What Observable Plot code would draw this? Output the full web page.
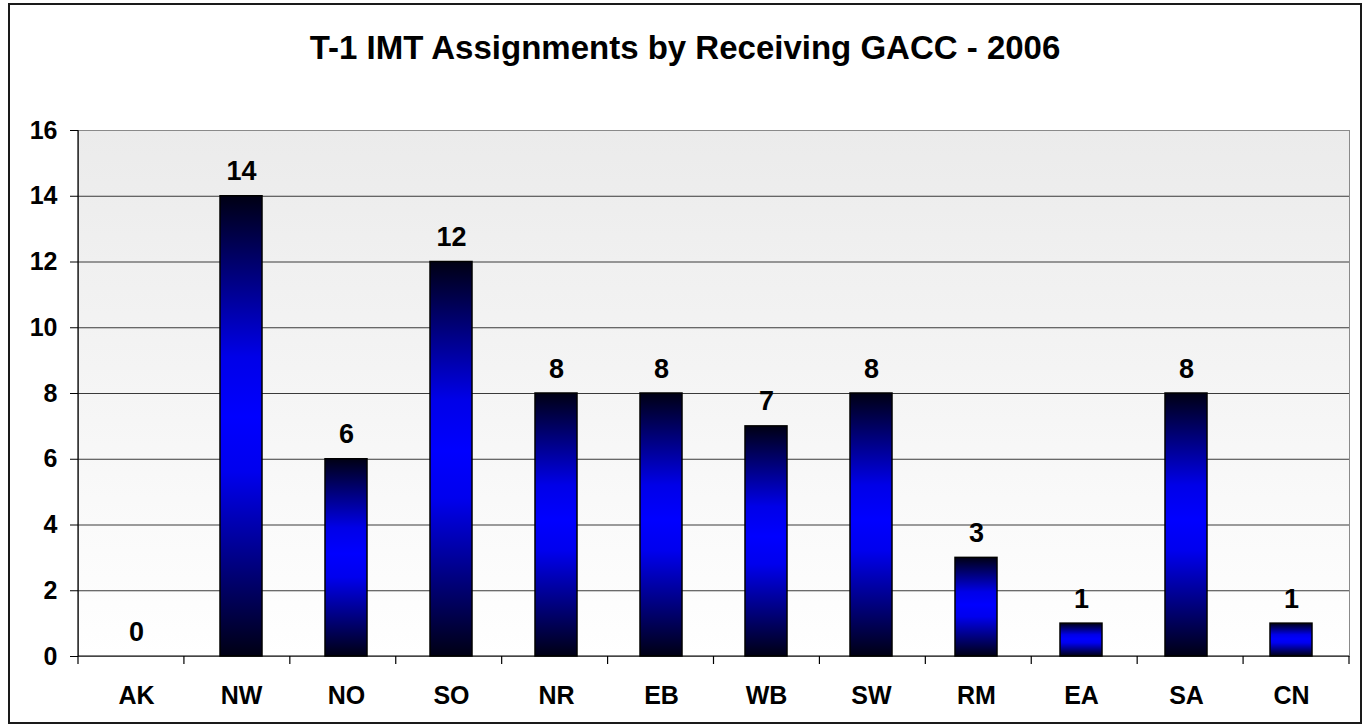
<!DOCTYPE html>
<html>
<head>
<meta charset="utf-8">
<script src="https://cdn.jsdelivr.net/npm/d3@7"></script>
<script src="https://cdn.jsdelivr.net/npm/@observablehq/plot@0.6"></script>
<style>
  body { margin: 0; background: #fff; font-family: "Liberation Sans", Arial, sans-serif; }
  #wrap { position: relative; width: 1364px; height: 728px; overflow: hidden; background: #fff; }
  #border { position: absolute; left: 8px; top: 3px; width: 1354px; height: 721px; border: 2px solid #1a1a1a; box-sizing: border-box; pointer-events: none; }
  #title { position: absolute; left: 0; top: 31px; width: 1370px; text-align: center; font-weight: bold; font-size: 33px; line-height: 33px; color: #000; }
  #chart { position: absolute; left: 0; top: 0; }
</style>
</head>
<body>
<div id="wrap">
  <div id="chart"></div>
  <div id="title"></div>
  <div id="border"></div>
</div>
<script>
const title = "T-1 IMT Assignments by Receiving GACC - 2006";
const categories = ["AK", "NW", "NO", "SO", "NR", "EB", "WB", "SW", "RM", "EA", "SA", "CN"];
const counts = [0, 14, 6, 12, 8, 8, 7, 8, 3, 1, 8, 1];
const yTicks = [0, 2, 4, 6, 8, 10, 12, 14, 16];

const data = categories.map((c, i) => ({gacc: c, count: counts[i]}));
document.getElementById("title").textContent = title;

const gradients = () => {
  const defs = d3.create("svg:defs");
  const bg = defs.append("linearGradient").attr("id", "plotBg")
    .attr("x1", 0).attr("y1", 0).attr("x2", 0).attr("y2", 1);
  bg.append("stop").attr("offset", "0%").attr("stop-color", "#ebebeb");
  bg.append("stop").attr("offset", "100%").attr("stop-color", "#ffffff");
  const bar = defs.append("linearGradient").attr("id", "barFill")
    .attr("x1", 0).attr("y1", 0).attr("x2", 0).attr("y2", 1);
  [["0%", "#000014"], ["35%", "#0000e8"], ["48%", "#0000ff"], ["60%", "#0000ee"], ["100%", "#000014"]]
    .forEach(([o, c]) => bar.append("stop").attr("offset", o).attr("stop-color", c));
  return defs.node();
};

const axisLines = (index, scales, values, dims) => {
  const {width, height, marginLeft, marginRight, marginTop, marginBottom} = dims;
  const g = d3.create("svg:g").attr("stroke", "#000").attr("stroke-width", 1.2);
  const y0 = height - marginBottom;
  g.append("line").attr("x1", marginLeft).attr("x2", marginLeft).attr("y1", marginTop).attr("y2", y0);
  g.append("line").attr("x1", marginLeft).attr("x2", width - marginRight).attr("y1", y0).attr("y2", y0);
  const step = (width - marginLeft - marginRight) / categories.length;
  for (let i = 0; i <= categories.length; i++) {
    const x = marginLeft + i * step;
    g.append("line").attr("x1", x).attr("x2", x).attr("y1", y0).attr("y2", y0 + 8);
  }
  return g.node();
};

const chart = Plot.plot({
  width: 1364,
  height: 728,
  marginTop: 130,
  marginRight: 15,
  marginBottom: 72,
  marginLeft: 78,
  style: {fontFamily: "'Liberation Sans', Arial, sans-serif", fontWeight: "bold", fontSize: "25px", color: "#000", background: "transparent"},
  x: {domain: categories, paddingInner: 0.6, paddingOuter: 0.3, label: null},
  y: {domain: [0, 16], label: null},
  marks: [
    gradients,
    Plot.frame({fill: "url(#plotBg)", stroke: "#8a8a8a"}),
    Plot.ruleY(yTicks.filter(t => t > 0 && t < 16), {stroke: "#3a3a3a", strokeWidth: 1}),
    Plot.barY(data, {filter: d => d.count > 0, x: "gacc", y: "count", fill: "url(#barFill)", stroke: "#000", strokeWidth: 1.5}),
    Plot.text(data, {x: "gacc", y: "count", text: d => String(d.count), lineAnchor: "bottom", dy: -16, fontSize: 27, fontWeight: "bold", fill: "#000"}),
    Plot.axisY({ticks: yTicks, tickSize: 8, tickPadding: 13, tickFormat: d => String(d), fontSize: 25, fontWeight: "bold", label: null}),
    Plot.axisX({tickSize: 0, tickPadding: 30, fontSize: 25, fontWeight: "bold", label: null}),
    axisLines
  ]
});
document.getElementById("chart").appendChild(chart);
</script>
</body>
</html>
